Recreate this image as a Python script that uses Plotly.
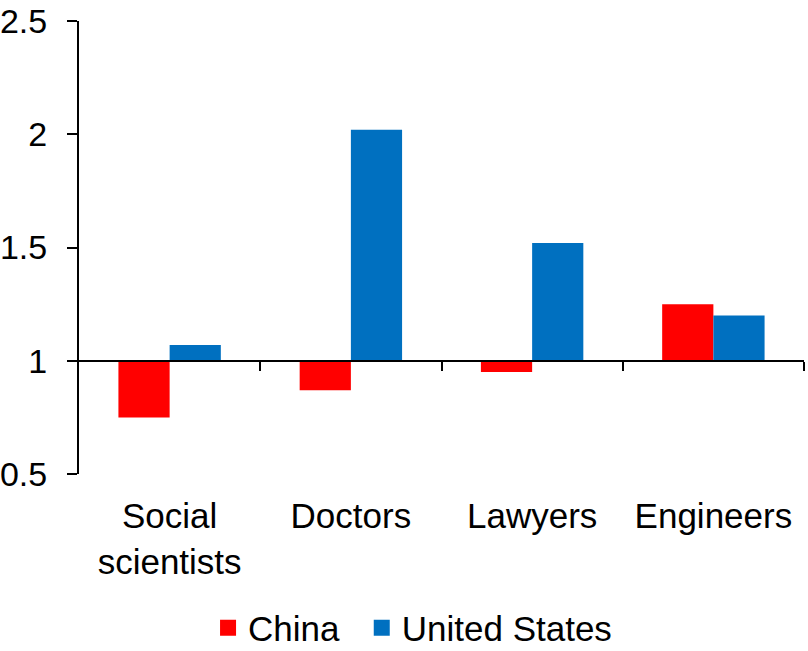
import plotly.graph_objects as go

categories = ["Social<br>scientists", "Doctors", "Lawyers", "Engineers"]
china = [0.75, 0.87, 0.95, 1.25]
united_states = [1.07, 2.02, 1.52, 1.20]
baseline = 1.0
y_ticks = [0.5, 1, 1.5, 2, 2.5]
y_tick_labels = ["0.5", "1", "1.5", "2", "2.5"]

RED = "#FF0000"
BLUE = "#0070C0"
FONT = dict(family="Liberation Sans, Arial, sans-serif", size=35, color="black")

fig = go.Figure()
fig.add_trace(go.Bar(x=categories, y=[v - baseline for v in china], base=baseline,
                     marker=dict(color=RED, line=dict(width=0)), name="China", showlegend=False))
fig.add_trace(go.Bar(x=categories, y=[v - baseline for v in united_states], base=baseline,
                     marker=dict(color=BLUE, line=dict(width=0)), name="United States", showlegend=False))
# legend entries (one legend box each, to match spacing)
for nm, col, lg in [("China", RED, "legend"), ("United States", BLUE, "legend2")]:
    fig.add_trace(go.Scatter(x=[None], y=[None], mode="markers", xaxis="x2", legend=lg,
                             marker=dict(symbol="square", size=18, color=col), name=nm))

fig.update_layout(
    width=808, height=651,
    margin=dict(l=79, r=4, t=21, b=177, autoexpand=False),
    paper_bgcolor="white", plot_bgcolor="white",
    font=FONT,
    barmode="group", bargap=0.435, bargroupgap=0,
    xaxis=dict(type="category", categoryorder="array", categoryarray=categories,
               range=[-0.5, 3.5], showline=False, ticks="", showgrid=False,
               zeroline=False, ticklabelstandoff=18, automargin=False,
               ticklabeloverflow="allow"),
    xaxis2=dict(overlaying="x", anchor="free", position=(baseline - 0.5) / 2.0,
                range=[-0.5, 3.5], tickmode="array", tickvals=[0.5, 1.5, 2.5, 3.5],
                showticklabels=False, showline=True, linecolor="black", linewidth=2,
                ticks="outside", ticklen=9, tickwidth=2, tickcolor="black",
                showgrid=False, zeroline=False, automargin=False),
    yaxis=dict(range=[0.5, 2.5], tickmode="array", tickvals=y_ticks, ticktext=y_tick_labels,
               showline=True, linecolor="black", linewidth=2, ticks="outside",
               ticklen=10, tickwidth=2, tickcolor="black", showgrid=False, zeroline=False,
               ticklabelstandoff=13, automargin=False, ticklabeloverflow="allow",
               tickfont=dict(size=34)),
    legend=dict(orientation="h", x=0.178, xanchor="left", y=-0.34, yanchor="middle",
                font=FONT, itemwidth=30),
    legend2=dict(orientation="h", x=0.390, xanchor="left", y=-0.34, yanchor="middle",
                 font=FONT, itemwidth=30),
)

fig.write_html("out.html", post_script="document.body.style.margin='0';",
               config={"displayModeBar": False})
